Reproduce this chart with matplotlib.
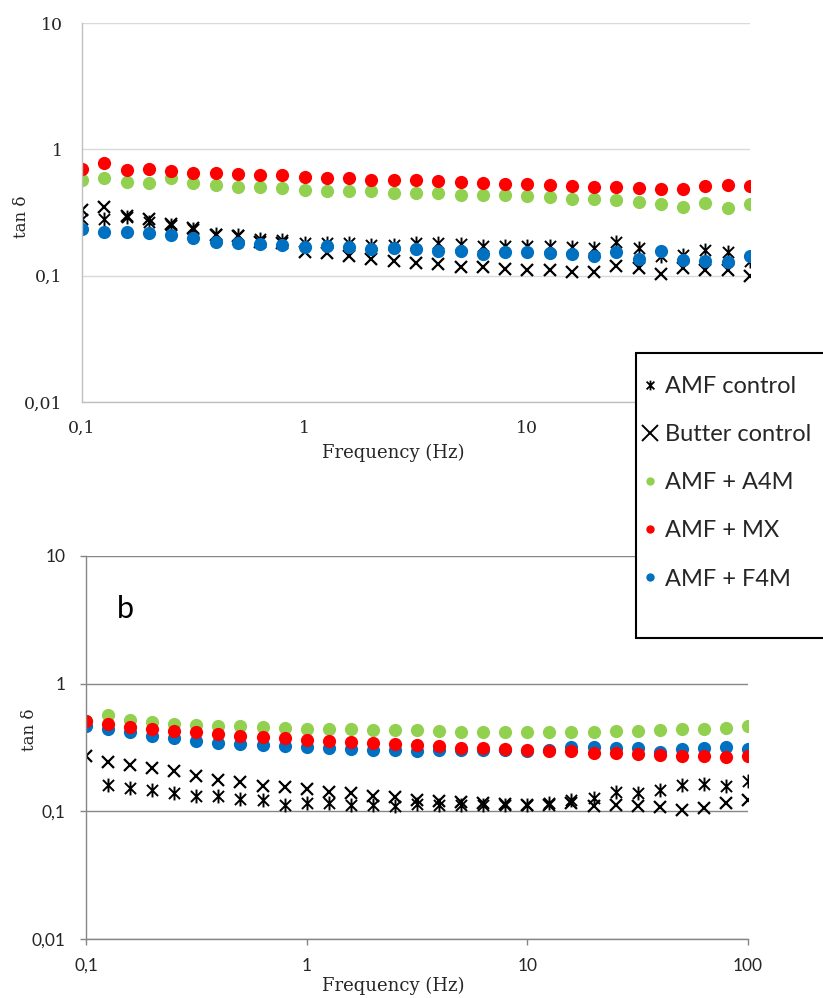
import matplotlib
matplotlib.use("Agg")
import matplotlib.pyplot as plt
import numpy as np
from matplotlib.lines import Line2D
from matplotlib.patches import Rectangle
from matplotlib.path import Path
from matplotlib.ticker import FixedLocator, FuncFormatter, NullLocator

# frequency sweep, Hz (10 points per decade)
freq = [0.1, 0.1259, 0.1585, 0.1995, 0.2512, 0.3162, 0.3981, 0.5012, 0.631, 0.7943,
        1.0, 1.259, 1.585, 1.995, 2.512, 3.162, 3.981, 5.012, 6.31, 7.943,
        10.0, 12.59, 15.85, 19.95, 25.12, 31.62, 39.81, 50.12, 63.1, 79.43, 100.0]

series_names = ["AMF control", "Butter control", "AMF + A4M", "AMF + MX", "AMF + F4M"]

# panel a: tan delta
a_amf_control = [0.28, 0.28, 0.29, 0.265, 0.25, 0.235, 0.215, 0.21, 0.195, 0.19, 0.182,
                 0.18, 0.18, 0.175, 0.175, 0.18, 0.18, 0.178, 0.172, 0.172, 0.172,
                 0.172, 0.17, 0.166, 0.186, 0.166, 0.142, 0.146, 0.16, 0.155, 0.13]
a_butter = [0.33, 0.35, 0.295, 0.28, 0.255, 0.24, 0.21, 0.205, 0.185, 0.18, 0.155,
            0.151, 0.142, 0.135, 0.131, 0.126, 0.124, 0.118, 0.118, 0.113, 0.110,
            0.110, 0.106, 0.106, 0.12, 0.114, 0.104, 0.114, 0.11, 0.11, 0.10]
a_a4m = [0.577, 0.594, 0.55, 0.543, 0.591, 0.537, 0.518, 0.499, 0.499, 0.49, 0.475,
         0.464, 0.464, 0.464, 0.453, 0.448, 0.448, 0.437, 0.437, 0.432, 0.427,
         0.421, 0.402, 0.402, 0.397, 0.380, 0.367, 0.347, 0.378, 0.345, 0.367]
a_mx = [0.705, 0.78, 0.692, 0.70, 0.675, 0.65, 0.65, 0.636, 0.628, 0.621, 0.605,
        0.591, 0.591, 0.577, 0.577, 0.570, 0.557, 0.55, 0.543, 0.53, 0.53,
        0.521, 0.511, 0.505, 0.499, 0.496, 0.487, 0.482, 0.511, 0.518, 0.511]
a_f4m = [0.233, 0.222, 0.222, 0.217, 0.21, 0.2, 0.185, 0.183, 0.179, 0.175, 0.170,
         0.172, 0.170, 0.162, 0.165, 0.162, 0.158, 0.156, 0.149, 0.153, 0.155,
         0.151, 0.149, 0.142, 0.153, 0.136, 0.157, 0.134, 0.130, 0.129, 0.144]

# panel b: tan delta (no AMF control reading at 0.1 Hz)
b_amf_control = [np.nan, 0.162, 0.153, 0.146, 0.138, 0.131, 0.133, 0.125, 0.123, 0.113, 0.116,
                 0.116, 0.113, 0.113, 0.111, 0.115, 0.113, 0.113, 0.113, 0.113, 0.113,
                 0.116, 0.123, 0.127, 0.141, 0.139, 0.148, 0.162, 0.165, 0.159, 0.172]
b_butter = [0.273, 0.242, 0.231, 0.219, 0.206, 0.19, 0.175, 0.169, 0.159, 0.155, 0.149,
            0.143, 0.138, 0.133, 0.130, 0.123, 0.12, 0.118, 0.116, 0.115, 0.113,
            0.113, 0.116, 0.11, 0.113, 0.11, 0.108, 0.103, 0.106, 0.116, 0.123]
b_a4m = [0.51, 0.572, 0.523, 0.498, 0.486, 0.475, 0.469, 0.463, 0.458, 0.45, 0.445,
         0.442, 0.442, 0.434, 0.431, 0.431, 0.426, 0.421, 0.421, 0.416, 0.416,
         0.421, 0.421, 0.421, 0.423, 0.426, 0.436, 0.442, 0.442, 0.452, 0.469]
b_mx = [0.513, 0.481, 0.458, 0.442, 0.423, 0.416, 0.406, 0.387, 0.382, 0.375, 0.364,
        0.356, 0.351, 0.343, 0.339, 0.331, 0.323, 0.315, 0.314, 0.308, 0.304,
        0.299, 0.299, 0.287, 0.287, 0.283, 0.276, 0.27, 0.27, 0.267, 0.273]
b_f4m = [0.469, 0.442, 0.416, 0.387, 0.373, 0.353, 0.343, 0.339, 0.333, 0.323, 0.319,
         0.315, 0.308, 0.304, 0.30, 0.298, 0.30, 0.305, 0.303, 0.30, 0.297,
         0.304, 0.318, 0.317, 0.314, 0.312, 0.293, 0.308, 0.311, 0.321, 0.308]

x_ticks = [0.1, 1, 10, 100]
y_ticks = [0.01, 0.1, 1, 10]

GREEN = "#92D050"
RED = "#FF0000"
BLUE = "#0070C0"
SERIF = "DejaVu Serif"
SANS = "Lato"

# Excel-style asterisk: an X with a vertical bar through it
ASTERISK = Path([(-1, -1), (1, 1), (-1, 1), (1, -1), (0, -1.25), (0, 1.25)],
                [Path.MOVETO, Path.LINETO, Path.MOVETO, Path.LINETO, Path.MOVETO, Path.LINETO])


def comma_fmt(v, _):
  return f"{v:g}".replace(".", ",")


def draw_series(ax, amf_ctrl, butter, a4m, mx, f4m):
  ax.plot(freq, butter, ls="none", marker="x", ms=9, mew=1.6, color="black")
  ax.plot(freq, amf_ctrl, ls="none", marker=ASTERISK, ms=10, mew=1.4,
          color="black", mfc="none")
  ax.plot(freq, a4m, ls="none", marker="o", ms=9.5, color=GREEN, mec="none")
  ax.plot(freq, f4m, ls="none", marker="o", ms=9.5, color=BLUE, mec="none")
  ax.plot(freq, mx, ls="none", marker="o", ms=9.5, color=RED, mec="none")


def style_axes(ax, grid_color, spine_color, tick_font, tick_size, ticks_on):
  ax.set_xscale("log")
  ax.set_yscale("log")
  ax.set_xlim(0.1, 100)
  ax.set_ylim(0.01, 10)
  ax.xaxis.set_major_locator(FixedLocator(x_ticks))
  ax.yaxis.set_major_locator(FixedLocator(y_ticks))
  ax.xaxis.set_minor_locator(NullLocator())
  ax.yaxis.set_minor_locator(NullLocator())
  ax.xaxis.set_major_formatter(FuncFormatter(comma_fmt))
  ax.yaxis.set_major_formatter(FuncFormatter(comma_fmt))
  ax.yaxis.grid(True, color=grid_color, lw=1.0)
  ax.set_axisbelow(True)
  for side in ("top", "right"):
    ax.spines[side].set_visible(False)
  for side in ("left", "bottom"):
    ax.spines[side].set_color(spine_color)
    ax.spines[side].set_linewidth(1.0)
  if ticks_on:
    ax.tick_params(axis="both", direction="out", length=4.5, width=1.0,
                   color=spine_color)
    ax.tick_params(axis="y", pad=10.5)
    ax.tick_params(axis="x", pad=9)
  else:
    ax.tick_params(axis="both", length=0)
    ax.tick_params(axis="y", pad=14)
    ax.tick_params(axis="x", pad=13)
  for lab in ax.get_xticklabels() + ax.get_yticklabels():
    lab.set_fontfamily(tick_font)
    lab.set_fontsize(tick_size)
    lab.set_color("#262626")


W, H = 823, 998
fig = plt.figure(figsize=(W / 100, H / 100), dpi=100)


def px_box(left, top, right, bottom):
  return [left / W, 1 - bottom / H, (right - left) / W, (bottom - top) / H]


ax_a = fig.add_axes(px_box(82, 23, 750, 402))
draw_series(ax_a, a_amf_control, a_butter, a_a4m, a_mx, a_f4m)
style_axes(ax_a, "#D9D9D9", "#BFBFBF", SERIF, 12.5, ticks_on=False)
# the "100" label of the upper panel sits under the legend box
ax_a.get_xticklabels()[-1].set_visible(False)

ax_b = fig.add_axes(px_box(86, 556, 748, 939))
draw_series(ax_b, b_amf_control, b_butter, b_a4m, b_mx, b_f4m)
style_axes(ax_b, "#868686", "#868686", SANS, 12.5, ticks_on=True)

# axis titles
for yc in (453, 986):
  fig.text(393 / W, 1 - yc / H, "Frequency (Hz)", family=SERIF, fontsize=13,
           ha="center", va="center", color="#262626")
fig.text(21 / W, 1 - 217 / H, "tan δ", family=SERIF, fontsize=12,
         rotation=90, ha="center", va="center", color="#262626")
fig.text(30 / W, 1 - 730 / H, "tan δ", family=SERIF, fontsize=12,
         rotation=90, ha="center", va="center", color="#262626")
fig.text(117 / W, 1 - 618 / H, "b", family=SANS, fontsize=22, ha="left",
         va="baseline", color="black")

# legend box sits across both panels and runs off the right edge
box = Rectangle((636 / W, 1 - 638 / H), (840 - 636) / W, (638 - 353) / H,
                transform=fig.transFigure, facecolor="white", edgecolor="black",
                lw=1.5, zorder=4.5)
fig.add_artist(box)

handles = [
  Line2D([], [], ls="none", marker=ASTERISK, ms=7, mew=1.3, color="black", mfc="none"),
  Line2D([], [], ls="none", marker="x", ms=12, mew=1.4, color="black"),
  Line2D([], [], ls="none", marker="o", ms=6, color=GREEN, mec="none"),
  Line2D([], [], ls="none", marker="o", ms=6, color=RED, mec="none"),
  Line2D([], [], ls="none", marker="o", ms=6, color=BLUE, mec="none"),
]
leg = fig.legend(handles, series_names, loc="upper left",
                 bbox_to_anchor=(641 / W, 1 - 376 / H), frameon=False,
                 prop={"family": SANS, "size": 17}, handlelength=0.75,
                 handletextpad=0.25, borderpad=0, borderaxespad=0,
                 labelspacing=1.15)
leg.set_zorder(5)
for t in leg.get_texts():
  t.set_color("#262626")

fig.savefig("out.png", dpi=100)
